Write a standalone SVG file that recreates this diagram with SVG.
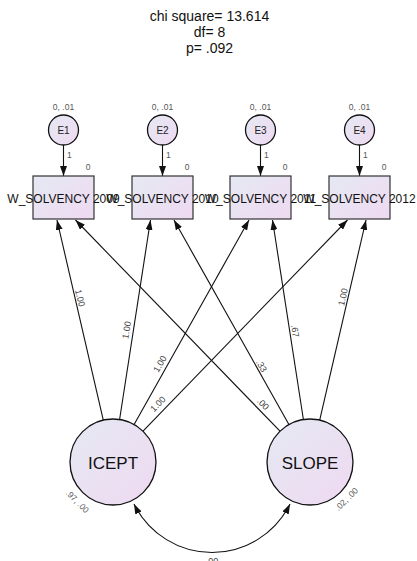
<svg xmlns="http://www.w3.org/2000/svg" width="417" height="561" viewBox="0 0 417 561">
<style>
text{font-family:"Liberation Sans",Arial,sans-serif;}
.title{font-size:14px;fill:#111;text-anchor:middle;}
.box{fill:url(#g);stroke:#333;stroke-width:1.2;}
.circ{fill:url(#g);stroke:#111;stroke-width:1.3;}
.bl{font-size:12px;fill:#111;text-anchor:middle;}
.el{font-size:10px;fill:#222;text-anchor:middle;}
.big{font-size:17px;fill:#111;text-anchor:middle;}
.sm{font-size:8.5px;fill:#555;}
.pl{font-size:9px;fill:#444;text-anchor:middle;}
.con{stroke:#111;stroke-width:1.1;fill:none;marker-end:url(#ah);}
</style>
<defs>
<linearGradient id="g" x1="0" y1="0" x2="1" y2="1">
<stop offset="0" stop-color="#e5e9f3"/>
<stop offset="1" stop-color="#efd9f1"/>
</linearGradient>
<marker id="ah" markerUnits="userSpaceOnUse" markerWidth="10" markerHeight="7" refX="10" refY="3.5" orient="auto-start-reverse">
<path d="M0,0 L10,3.5 L0,7 z" fill="#111"/>
</marker>
</defs>
<rect width="417" height="561" fill="#fff"/>
<g id="title">
<text class="title" x="209.5" y="21">chi square= 13.614</text>
<text class="title" x="209.5" y="37">df= 8</text>
<text class="title" x="209.5" y="53">p= .092</text>
</g>
<g id="connectors">
<line class="con" x1="63.5" y1="145" x2="63.5" y2="176"/>
<line class="con" x1="162.5" y1="145" x2="162.5" y2="176"/>
<line class="con" x1="260.5" y1="145" x2="260.5" y2="176"/>
<line class="con" x1="359.5" y1="145" x2="359.5" y2="176"/>
<line class="con" x1="103.3" y1="420.1" x2="57" y2="220"/>
<line class="con" x1="119.6" y1="419.5" x2="150.5" y2="220"/>
<line class="con" x1="134.1" y1="424.5" x2="249" y2="220"/>
<line class="con" x1="143" y1="431.2" x2="347.5" y2="220"/>
<line class="con" x1="280" y1="431.2" x2="75.5" y2="220"/>
<line class="con" x1="288.9" y1="424.5" x2="174" y2="220"/>
<line class="con" x1="303.4" y1="419.5" x2="272.5" y2="220"/>
<line class="con" x1="319.7" y1="420.1" x2="366" y2="220"/>
<path class="con" style="marker-start:url(#ah)" d="M134,504 A87,87 0 0 0 290,504"/>
<text class="sm" x="67" y="158">1</text>
<text class="sm" x="166" y="158">1</text>
<text class="sm" x="264" y="158">1</text>
<text class="sm" x="363" y="158">1</text>
<text class="pl" transform="translate(80,298) rotate(77)" y="3">1.00</text>
<text class="pl" transform="translate(126.7,330) rotate(-81)" y="3">1.00</text>
<text class="pl" transform="translate(160,364) rotate(-60.6)" y="3">1.00</text>
<text class="pl" transform="translate(158,404) rotate(-45.8)" y="3">1.00</text>
<text class="pl" transform="translate(263,404) rotate(45.8)" y="3">.00</text>
<text class="pl" transform="translate(261.5,366) rotate(60.6)" y="3">.33</text>
<text class="pl" transform="translate(295,331) rotate(81)" y="3">.67</text>
<text class="pl" transform="translate(343,297) rotate(-77)" y="3">1.00</text>
<text class="pl" x="212" y="564">.00</text>
</g>
<g id="E1">
<circle class="circ" cx="63.5" cy="130" r="15"/>
<text class="el" x="63.5" y="133.5">E1</text>
<text class="sm" x="63.5" y="110" text-anchor="middle">0, .01</text>
</g>
<g id="E2">
<circle class="circ" cx="162.5" cy="130" r="15"/>
<text class="el" x="162.5" y="133.5">E2</text>
<text class="sm" x="162.5" y="110" text-anchor="middle">0, .01</text>
</g>
<g id="E3">
<circle class="circ" cx="260.5" cy="130" r="15"/>
<text class="el" x="260.5" y="133.5">E3</text>
<text class="sm" x="260.5" y="110" text-anchor="middle">0, .01</text>
</g>
<g id="E4">
<circle class="circ" cx="359.5" cy="130" r="15"/>
<text class="el" x="359.5" y="133.5">E4</text>
<text class="sm" x="359.5" y="110" text-anchor="middle">0, .01</text>
</g>
<g id="W2009">
<rect class="box" x="33" y="176" width="61" height="43"/>
<text class="sm" x="88" y="170" text-anchor="middle">0</text>
<text class="bl" x="63.5" y="202.5">W_SOLVENCY 2009</text>
</g>
<g id="W2010">
<rect class="box" x="132" y="176" width="61" height="43"/>
<text class="sm" x="187" y="170" text-anchor="middle">0</text>
<text class="bl" x="162.5" y="202.5">W_SOLVENCY 2010</text>
</g>
<g id="W2011">
<rect class="box" x="230" y="176" width="61" height="43"/>
<text class="sm" x="285" y="170" text-anchor="middle">0</text>
<text class="bl" x="260.5" y="202.5">W_SOLVENCY 2011</text>
</g>
<g id="W2012">
<rect class="box" x="329" y="176" width="61" height="43"/>
<text class="sm" x="384" y="170" text-anchor="middle">0</text>
<text class="bl" x="359.5" y="202.5">W_SOLVENCY 2012</text>
</g>
<g id="ICEPT">
<circle class="circ" cx="113" cy="462" r="43"/>
<text class="big" x="113" y="468.5">ICEPT</text>
<text class="sm" text-anchor="middle" transform="translate(77.5,501.5) rotate(45)" y="3">.97, .00</text>
</g>
<g id="SLOPE">
<circle class="circ" cx="310" cy="462" r="43"/>
<text class="big" x="310" y="468.5">SLOPE</text>
<text class="sm" text-anchor="middle" transform="translate(346.5,499) rotate(-45)" y="3">.02, .00</text>
</g>
</svg>
